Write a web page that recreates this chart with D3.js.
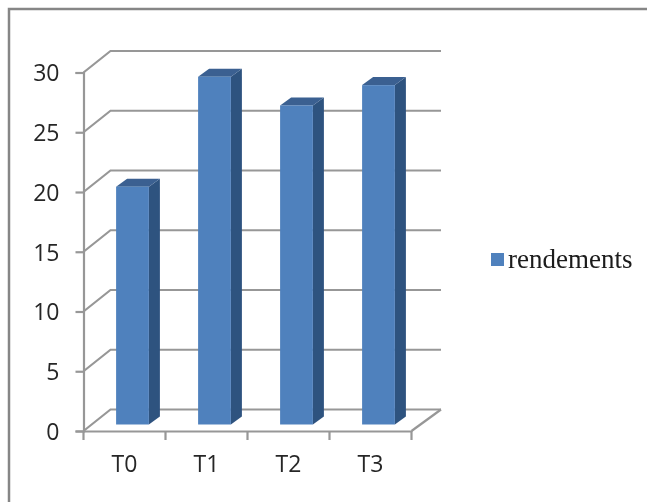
<!DOCTYPE html>
<html>
<head>
<meta charset="utf-8">
<script src="https://cdn.jsdelivr.net/npm/d3@7/dist/d3.min.js"></script>
<style>
  html, body { margin: 0; padding: 0; background: #fff; }
  svg { display: block; }
</style>
</head>
<body>
<div id="drawing"></div>
<script>
 // your data
 var categories = ["T0", "T1", "T2", "T3"];
 var rendements = [19.9, 29.1, 26.7, 28.4];
 var yTicks = [0, 5, 10, 15, 20, 25, 30];
 var legendLabel = "rendements";

 var width = 647;
 var height = 502;
 var gridColor = "#979797";
 var axisFont = "'Open Sans', 'Noto Sans', sans-serif";

 // 3d offsets: back wall and the plane where the bars stand
 var wall = {dx: 27, dy: -21.5, rightDx: 29.5};
 var plane = {dx: 8, dy: -6.5};
 var depth = {dx: 11, dy: -8};

 var drawing = d3.select("#drawing").append("svg")
   .attr("width", width)
   .attr("height", height)
   .attr("viewBox", `0 0 ${width} ${height}`);

 // blur a touch, the reference is a soft screenshot
 drawing.append("defs").append("filter")
   .attr("id", "soft")
   .attr("x", "-5%").attr("y", "-5%")
   .attr("width", "110%").attr("height", "110%")
   .append("feGaussianBlur")
   .attr("stdDeviation", 0.4);

 var root = drawing.append("g").attr("filter", "url(#soft)");

 // frame only shows on top and left
 root.append("path")
   .attr("d", `M${width},9 H9 V${height}`)
   .style("fill", "none")
   .style("stroke", "#868686")
   .style("stroke-width", 2.5);

 // scales
 var xScale = d3.scaleBand().domain(categories).range([83.5, 411.5]);
 var yScale = d3.scaleLinear().domain([0, 30]).range([431, 72.5]);

 // back wall gridlines and the diagonals of the side wall
 var grid = root.append("g")
   .style("stroke", gridColor)
   .style("stroke-width", 2.2)
   .style("fill", "none");

 grid.selectAll(".wallLine")
   .data(yTicks)
   .enter()
   .append("path")
   .attr("class", "wallLine")
   .attr("d", (d) => {
     let y = yScale(d);
     return `M83.5,${y} L${83.5 + wall.dx},${y + wall.dy} H${411.5 + wall.rightDx}`;
   });

 // right side of the floor
 grid.append("path")
   .attr("d", `M411.5,${yScale(0)} L${411.5 + wall.rightDx},${yScale(0) + wall.dy}`);

 // axes
 var yAxis = root.append("g")
   .attr("class", "yAxis")
   .attr("transform", "translate(83.5,0)")
   .call(d3.axisLeft(yScale).tickValues(yTicks).tickSize(8).tickPadding(16));

 var xAxis = root.append("g")
   .attr("class", "xAxis")
   .attr("transform", `translate(0,${yScale(0)})`)
   .call(d3.axisBottom(xScale).tickSize(0).tickPadding(25));

 // category ticks sit between the bands, not on the centres
 xAxis.selectAll(".edgeTick")
   .data(d3.range(categories.length + 1))
   .enter()
   .append("line")
   .attr("class", "edgeTick")
   .attr("x1", (d) => 83.5 + d * xScale.step())
   .attr("x2", (d) => 83.5 + d * xScale.step())
   .attr("y1", 0)
   .attr("y2", 9);

 root.selectAll(".yAxis path, .yAxis line, .xAxis path, .xAxis line")
   .style("stroke", gridColor)
   .style("stroke-width", 2.2);

 root.selectAll(".yAxis text, .xAxis text")
   .style("font-family", axisFont)
   .style("font-size", "23px")
   .style("fill", "#262626");

 root.selectAll(".yAxis text").attr("dy", "0.36em");

 // bars
 var barWidth = xScale.bandwidth() * 0.4;
 var barLeft = (d, i) => xScale(categories[i]) + (xScale.bandwidth() - barWidth) / 2 + plane.dx;
 var barTop = (d) => yScale(d) + plane.dy;
 var barBase = yScale(0) + plane.dy;

 var bars = root.selectAll(".bar")
   .data(rendements)
   .enter()
   .append("g")
   .attr("class", "bar");

 // side face
 bars.append("polygon")
   .attr("points", (d, i) => {
     let r = barLeft(d, i) + barWidth;
     return [
       [r, barTop(d)],
       [r + depth.dx, barTop(d) + depth.dy],
       [r + depth.dx, barBase + depth.dy],
       [r, barBase]
     ].join(" ");
   })
   .style("fill", "#2F527F");

 // top face
 bars.append("polygon")
   .attr("points", (d, i) => {
     let l = barLeft(d, i);
     return [
       [l, barTop(d)],
       [l + depth.dx, barTop(d) + depth.dy],
       [l + barWidth + depth.dx, barTop(d) + depth.dy],
       [l + barWidth, barTop(d)]
     ].join(" ");
   })
   .style("fill", "#3A6191");

 // front face
 bars.append("rect")
   .attr("x", barLeft)
   .attr("y", barTop)
   .attr("width", barWidth)
   .attr("height", (d) => barBase - barTop(d))
   .style("fill", "#4F81BD");

 // legend
 var legend = root.append("g").attr("class", "legend");
 legend.append("rect")
   .attr("x", 491)
   .attr("y", 253)
   .attr("width", 13)
   .attr("height", 13)
   .style("fill", "#4F81BD");
 legend.append("text")
   .attr("x", 508)
   .attr("y", 268)
   .text(legendLabel)
   .style("font-family", "'Liberation Serif', serif")
   .style("font-size", "27px")
   .style("fill", "#1a1a1a");
</script>
</body>
</html>
